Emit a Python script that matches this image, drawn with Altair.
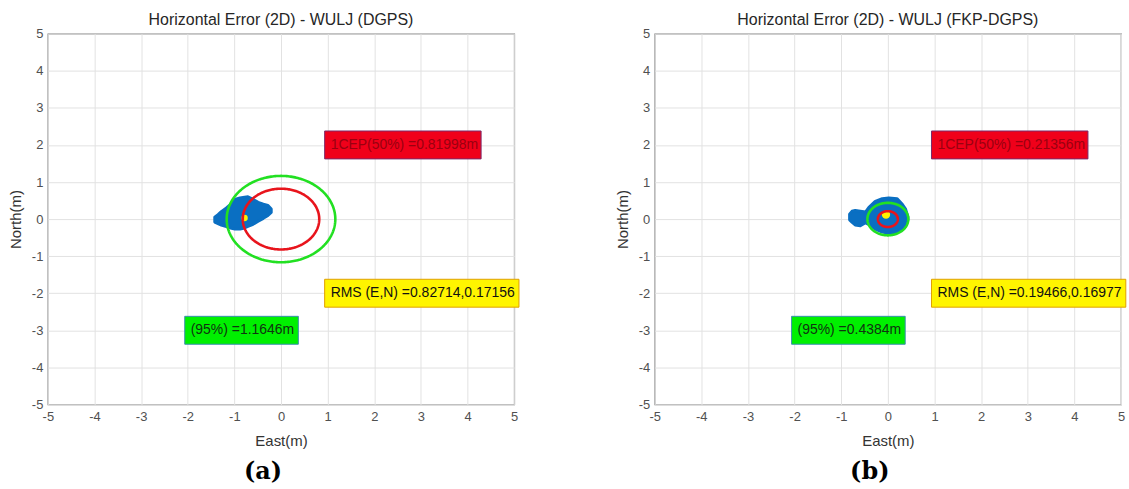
import numpy as np
import pandas as pd
import altair as alt

# ---------------- data ----------------
axis_ticks = list(range(-5, 6))
titles = ["Horizontal Error (2D) - WULJ (DGPS)", "Horizontal Error (2D) - WULJ (FKP-DGPS)"]
panel_tags = ["(a)", "(b)"]
cep50 = [0.81998, 0.21356]
r95 = [1.1646, 0.4384]
rms_e = [0.82714, 0.19466]
rms_n = [0.17156, 0.16977]

# outline of the blue cloud of position fixes (East column, North top / bottom)
cloud_a_x = [-1.42, -1.35, -1.28, -1.17, -1.06, -0.99, -0.88, -0.78, -0.71, -0.60, -0.49, -0.38, -0.28, -0.21]
cloud_a_top = [0.05, 0.12, 0.20, 0.30, 0.42, 0.53, 0.57, 0.59, 0.60, 0.53, 0.45, 0.40, 0.37, 0.27]
cloud_a_bot = [-0.08, -0.12, -0.16, -0.20, -0.25, -0.27, -0.27, -0.24, -0.20, -0.14, -0.06, 0.02, 0.10, 0.18]

cloud_b_x = [-0.82, -0.77, -0.70, -0.59, -0.48, -0.41, -0.27, -0.12, 0.02, 0.20, 0.31, 0.38, 0.43]
cloud_b_top = [0.13, 0.21, 0.23, 0.21, 0.19, 0.31, 0.48, 0.55, 0.57, 0.55, 0.40, 0.27, 0.06]
cloud_b_bot = [-0.02, -0.08, -0.16, -0.18, -0.10, -0.14, -0.27, -0.35, -0.38, -0.35, -0.27, -0.19, -0.02]

cloud_x = [cloud_a_x, cloud_b_x]
cloud_top = [cloud_a_top, cloud_b_top]
cloud_bot = [cloud_a_bot, cloud_b_bot]

mean_e = [-0.78, -0.04]
mean_n = [0.03, 0.12]

# annotation anchor points (data units)
label_x = [1, 1, -2]
label_y = [2, -2, -3]

# ---------------- styles ----------------
FONT = "Liberation Sans"
BLUE = "#0A6FC2"
YELLOW = "#FFF200"
RED = "#E8141C"
GREEN = "#22E022"
box_styles = [
    dict(fill="#F0001A", stroke="#7A2A6A", text="#9A0010", width=157),
    dict(fill="#FFF500", stroke="#E0A000", text="#111111", width=195),
    dict(fill="#00F000", stroke="#3A8FB0", text="#113311", width=114),
]


def circle_df(r):
    th = np.linspace(0, 2 * np.pi, 241)
    return pd.DataFrame({"x": r * np.cos(th), "y": r * np.sin(th), "o": np.arange(len(th))})


def panel(i):
    xs = alt.Scale(domain=[-5, 5], nice=False, zero=False)
    ys = alt.Scale(domain=[-5, 5], nice=False, zero=False)
    common = dict(values=axis_ticks, grid=True, gridColor="#E2E2E2", gridWidth=1,
                  ticks=False, domain=False, labelFont=FONT, labelFontSize=13,
                  labelColor="#505050", titleFont=FONT, titleFontSize=15,
                  titleFontWeight="normal", titleColor="#333333",
                  labelFlush=False, labelExpr="'' + datum.value")
    xa = alt.Axis(labelPadding=6, titlePadding=10, **common)
    ya = alt.Axis(labelPadding=5, titlePadding=8, **common)

    def X(f):
        return alt.X(f, type="quantitative", scale=xs, axis=xa, title="East(m)")

    def Y(f):
        return alt.Y(f, type="quantitative", scale=ys, axis=ya, title="North(m)")

    cloud = alt.Chart(pd.DataFrame({"x": cloud_x[i], "top": cloud_top[i], "bot": cloud_bot[i]})).mark_area(
        color=BLUE, opacity=1, interpolate="linear", stroke=BLUE, strokeWidth=3, strokeJoin="round"
    ).encode(x=X("x"), y=Y("top"), y2="bot")

    mean_pt = alt.Chart(pd.DataFrame({"x": [mean_e[i]], "y": [mean_n[i]]})).mark_point(
        filled=True, shape="circle", size=40 if i == 0 else 70, color=YELLOW, opacity=1
    ).encode(x=X("x"), y=Y("y"))

    red_c = alt.Chart(circle_df(cep50[i])).mark_line(color=RED, strokeWidth=2.6).encode(
        x=X("x"), y=Y("y"), order="o")
    green_c = alt.Chart(circle_df(r95[i])).mark_line(color=GREEN, strokeWidth=2.6).encode(
        x=X("x"), y=Y("y"), order="o")

    texts = [f"1CEP(50%) ={cep50[i]}m",
             f"RMS (E,N) ={rms_e[i]},{rms_n[i]}",
             f"(95%) ={r95[i]}m"]
    layers = [cloud, mean_pt, red_c, green_c]
    for k, t in enumerate(texts):
        st = box_styles[k]
        d = pd.DataFrame({"x": [label_x[k]], "y": [label_y[k]], "t": [t]})
        layers.append(
            alt.Chart(d).mark_rect(fill=st["fill"], stroke=st["stroke"], strokeWidth=1,
                                   xOffset=-3, x2Offset=st["width"] - 3,
                                   yOffset=-14, y2Offset=14).encode(
                x=X("x"), x2="x", y=Y("y"), y2="y")
        )
        layers.append(
            alt.Chart(d).mark_text(align="left", baseline="middle", dx=3, font=FONT,
                                   fontSize=14, color=st["text"]).encode(
                x=X("x"), y=Y("y"), text="t:N")
        )

    lay = alt.layer(*layers).properties(
        width=468, height=372,
        title=alt.TitleParams(titles[i], font=FONT, fontSize=16, fontWeight="normal",
                              color="#262626", offset=0, anchor="middle"),
    )
    return alt.vconcat(lay, title=alt.TitleParams(panel_tags[i], orient="bottom", anchor="middle",
                                                  font="DejaVu Serif", fontSize=24, fontWeight="bold",
                                                  color="#000000", offset=11, dx=-1))


chart = alt.hconcat(panel(0), panel(1), spacing=94).properties(
    padding={"left": 7, "top": 10, "right": 2, "bottom": 2}, background="white"
).configure_view(stroke="#707070", strokeWidth=1.2)

chart.save("out.html", embed_options={"renderer": "svg", "actions": False})
